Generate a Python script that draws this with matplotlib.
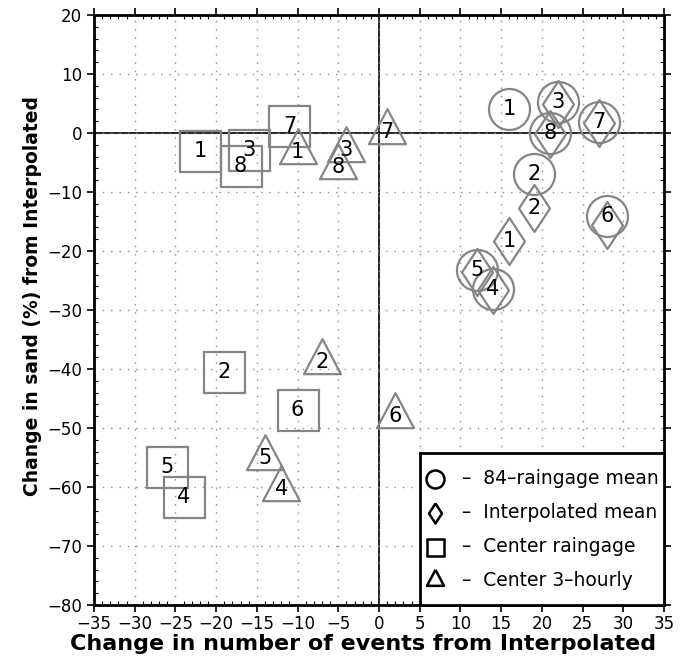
import matplotlib
matplotlib.use("Agg")
import matplotlib.pyplot as plt
from matplotlib.path import Path
from matplotlib.ticker import MultipleLocator
import numpy as np

# ---- data ----
labels = ["1", "2", "3", "4", "5", "6", "7", "8"]
circle_x = [16, 19, 22, 14, 12, 28, 27, 21]
circle_y = [4, -7, 5.2, -26.5, -23.3, -14, 1.9, 0]
diamond_x = [16, 19, 22, 14, 12, 28, 27, 21]
diamond_y = [-18.3, -12.7, 5, -26.6, -23.5, -15.6, 1.7, -0.2]
square_x = [-22, -19, -16, -24, -26, -10, -11, -17]
square_y = [-3, -40.5, -2.9, -61.7, -56.6, -47, 1.2, -5.6]
triangle_x = [-10, -7, -4, -12, -14, 2, 1, -5]
triangle_y = [-3.3, -38.8, -2.9, -60.3, -55, -48, 0.2, -5.7]

legend_labels = ["84\u2013raingage mean", "Interpolated mean", "Center raingage", "Center 3\u2013hourly"]
xlabel = "Change in number of events from Interpolated"
ylabel = "Change in sand (%) from Interpolated"

PT = 72.0 / 100.0  # points per pixel at dpi 100

# custom markers (pixel-based shapes)
tri_w, tri_h = 37.0, 35.0
tri_path = Path([(0, 2 * tri_h / 3), (-tri_w / 2, -tri_h / 3), (tri_w / 2, -tri_h / 3), (0, 2 * tri_h / 3)],
                [Path.MOVETO, Path.LINETO, Path.LINETO, Path.CLOSEPOLY])
tri_ms = 2 * (2 * tri_h / 3) * PT
dia_w, dia_h = 31.0, 47.0
dia_path = Path([(0, dia_h / 2), (dia_w / 2, 0), (0, -dia_h / 2), (-dia_w / 2, 0), (0, dia_h / 2)],
                [Path.MOVETO, Path.LINETO, Path.LINETO, Path.LINETO, Path.CLOSEPOLY])
dia_ms = dia_h * PT
circ_ms = 41 * PT
sq_ms = 41 * PT

fig = plt.figure(figsize=(6.83, 6.59), dpi=100)
ax = fig.add_axes([94 / 683, 1 - 605 / 659, 570 / 683, 590 / 659])

ax.set_xlim(-35, 35)
ax.set_ylim(-80, 20)
ax.xaxis.set_major_locator(MultipleLocator(5))
ax.yaxis.set_major_locator(MultipleLocator(10))
ax.xaxis.set_minor_locator(MultipleLocator(1))
ax.yaxis.set_minor_locator(MultipleLocator(2))

ax.grid(True, which="major", color="#8a8a8a", linestyle=(0, (1, 5)), linewidth=1.0)
ax.axhline(0, color="black", linewidth=1.2, zorder=1)
ax.axvline(0, color="black", linewidth=1.2, zorder=1)

gray = "#858585"
lw = 1.6
common = dict(linestyle="none", markerfacecolor="none", markeredgecolor=gray, markeredgewidth=lw, zorder=3)

ax.plot(circle_x, circle_y, marker="o", markersize=circ_ms, **common)
ax.plot(diamond_x, diamond_y, marker=dia_path, markersize=dia_ms, **common)
ax.plot(square_x, square_y, marker="s", markersize=sq_ms, **common)
ax.plot(triangle_x, triangle_y, marker=tri_path, markersize=tri_ms, **common)

tfs = 15
for xs, ys in [(circle_x, circle_y), (square_x, square_y), (triangle_x, triangle_y)]:
    for lab, x, y in zip(labels, xs, ys):
        ax.text(x, y, lab, ha="center", va="center", fontsize=tfs, color="black", zorder=4)
# diamonds: label only where no circle label already sits on the same spot
for lab, x, y, cx, cy in zip(labels, diamond_x, diamond_y, circle_x, circle_y):
    if abs(x - cx) < 2 and abs(y - cy) < 2.5:
        continue
    ax.text(x, y, lab, ha="center", va="center", fontsize=tfs, color="black", zorder=4)

# ---- legend box ----
leg_ax = fig.add_axes([420 / 683, 1 - 605 / 659, (664 - 420) / 683, (605 - 453) / 659])
leg_ax.set_xlim(0, 244)
leg_ax.set_ylim(152, 0)
leg_ax.set_xticks([])
leg_ax.set_yticks([])
for s in leg_ax.spines.values():
    s.set_linewidth(2)
leg_ax.set_zorder(5)
leg_ax.patch.set_facecolor("white")
sym_x = 15
rows_y = [26, 60, 94, 127]
lm = [("o", 18 * PT), (Path([(0, 10), (6.5, 0), (0, -10), (-6.5, 0), (0, 10)]), 20 * PT), ("s", 17 * PT),
      (Path([(0, 2 * 16 / 3), (-8.5, -16 / 3), (8.5, -16 / 3), (0, 2 * 16 / 3)]), 2 * (2 * 16 / 3) * PT)]
for (m, ms), yy, lab in zip(lm, rows_y, legend_labels):
    leg_ax.plot([sym_x], [yy], marker=m, markersize=ms, markerfacecolor="none",
                markeredgecolor="black", markeredgewidth=1.8, linestyle="none")
    leg_ax.text(42, yy, "\u2013  " + lab, ha="left", va="center", fontsize=13.5)

# ---- ticks and labels ----
ax.tick_params(axis="both", which="major", direction="out", length=5, width=1.2, labelsize=12,
               top=True, right=True)
ax.tick_params(axis="both", which="minor", direction="in", length=3, width=0.8, top=True, right=True)
ax.tick_params(axis="x", which="major", pad=2)
ax.set_xticklabels([f"{int(v)}".replace("-", "\u2212") for v in ax.get_xticks()])
ax.set_yticklabels([f"{int(v)}".replace("-", "\u2212") for v in ax.get_yticks()])
for s in ax.spines.values():
    s.set_linewidth(2)

ax.set_xlabel(xlabel, fontsize=16, fontweight="bold", labelpad=1)
ax.xaxis.set_label_coords((363 - 94) / 570, -0.05, transform=ax.transAxes)
ax.xaxis.label.set_verticalalignment("top")
ax.set_ylabel(ylabel, fontsize=13.5, fontweight="bold")
ax.yaxis.set_label_coords(-(94 - 33) / 570, (605 - 296) / 590, transform=ax.transAxes)
ax.yaxis.label.set_verticalalignment("center")

fig.savefig("out.png", dpi=100)
